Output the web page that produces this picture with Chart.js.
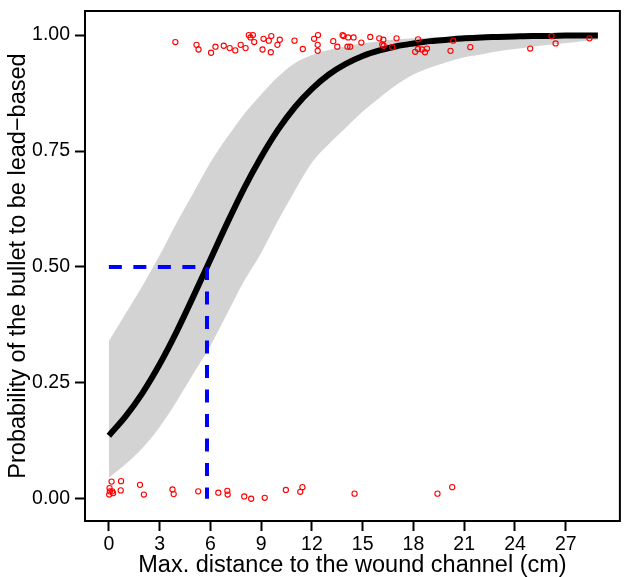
<!DOCTYPE html>
<html>
<head>
<meta charset="utf-8">
<script src="https://cdn.jsdelivr.net/npm/chart.js@4.4.1/dist/chart.umd.min.js"></script>
<style>
  html, body { margin: 0; padding: 0; background: #fff; }
  #wrap { width: 625px; height: 577px; }
</style>
</head>
<body>
<div id="wrap"><canvas id="chart"></canvas></div>
<script>
// fitted curve and 95% band
const gridX = [0, 1, 2, 3, 4, 5, 6, 7, 8, 9, 10, 11, 12, 13, 14, 15, 16, 17, 18, 19, 20, 21, 22, 23, 24, 25, 26, 27, 28, 28.9];
const fitP = [0.136, 0.178, 0.229, 0.29, 0.36, 0.437, 0.516, 0.595, 0.67, 0.737, 0.796, 0.845, 0.884, 0.915, 0.938, 0.955, 0.967, 0.976, 0.982, 0.987, 0.99, 0.993, 0.995, 0.996, 0.997, 0.998, 0.998, 0.999, 0.999, 0.999];
const bandLow = [0.046, 0.075, 0.11, 0.155, 0.21, 0.27, 0.33, 0.40, 0.47, 0.53, 0.60, 0.665, 0.725, 0.765, 0.80, 0.835, 0.865, 0.893, 0.915, 0.93, 0.942, 0.952, 0.958, 0.965, 0.97, 0.975, 0.979, 0.983, 0.987, 0.99];
const bandHigh = [0.34, 0.40, 0.46, 0.525, 0.595, 0.66, 0.725, 0.78, 0.83, 0.872, 0.91, 0.94, 0.957, 0.968, 0.976, 0.982, 0.987, 0.991, 0.993, 0.995, 0.996, 0.997, 0.998, 0.998, 0.999, 0.999, 0.999, 1.0, 1.0, 1.0];

// observed bullets (jittered 0/1)
const obsX = [3.93, 5.18, 5.30, 6.04, 6.30, 6.79, 7.14, 7.47, 7.79, 8.08, 8.27, 8.37, 8.51, 8.59, 9.08, 9.14, 9.45, 9.57, 9.60, 9.96, 10.1, 10.97, 11.46, 12.13, 12.34, 12.36, 12.34, 13.26, 13.50, 13.81, 13.87, 14.14, 14.10, 14.26, 14.46, 14.92, 15.45, 15.98, 16.22, 16.16, 16.24, 16.75, 17.0, 18.27, 18.1, 18.27, 18.5, 18.68, 18.8, 20.35, 20.19, 21.36, 24.9, 26.16, 26.4, 28.4,
  0.16, 0.72, 0.04, 0.06, 0.20, 0.02, 0.25, 0.70, 1.84, 2.07, 3.76, 3.83, 5.28, 6.47, 7.0, 7.02, 8.0, 8.41, 9.21, 10.46, 11.31, 11.44, 14.52, 19.42, 20.29];
const obsY = [0.985, 0.979, 0.969, 0.962, 0.975, 0.977, 0.972, 0.967, 0.979, 0.972, 1.0, 0.995, 1.0, 0.985, 0.969, 0.992, 0.988, 0.963, 0.998, 0.979, 0.990, 0.988, 0.970, 0.992, 0.979, 1.0, 0.966, 0.987, 0.975, 1.0, 0.998, 0.995, 0.975, 0.975, 0.995, 0.984, 0.996, 0.993, 0.990, 0.980, 0.977, 0.974, 0.993, 0.991, 0.964, 0.970, 0.969, 0.963, 0.971, 0.988, 0.966, 0.974, 0.971, 0.998, 0.982, 0.993,
  0.037, 0.038, 0.023, 0.016, 0.016, 0.009, 0.012, 0.018, 0.030, 0.009, 0.020, 0.010, 0.016, 0.013, 0.017, 0.009, 0.005, 0.0, 0.002, 0.019, 0.015, 0.025, 0.011, 0.011, 0.025];

// 50% cut-off
const cutX = [0, 5.8];
const cutP = [0.5, 0];

const xTicks = [0, 3, 6, 9, 12, 15, 18, 21, 24, 27];
const yTicks = [0, 0.25, 0.5, 0.75, 1];

const font = 'Liberation Sans, Arial, sans-serif';

const pts = (xs, ys) => xs.map((x, i) => ({ x: x, y: ys[i] }));

// frame around the plot region
const boxPlugin = {
    id: 'box',
    afterDatasetsDraw(chart) {
        const a = chart.chartArea, ctx = chart.ctx;
        ctx.save();
        ctx.strokeStyle = '#000';
        ctx.lineWidth = 2;
        ctx.strokeRect(a.left, a.top, a.right - a.left, a.bottom - a.top);
        ctx.restore();
    }
};

const lineBase = { pointRadius: 0, tension: 0, showLine: true };

new Chart(document.getElementById('chart').getContext('2d'), {
    type: 'scatter',
    data: {
        datasets: [
            { ...lineBase, data: pts(gridX, bandHigh), borderWidth: 0, backgroundColor: '#D3D3D3', fill: '+1', order: 6, cubicInterpolationMode: 'monotone' },
            { ...lineBase, data: pts(gridX, bandLow), borderWidth: 0, fill: false, order: 5, cubicInterpolationMode: 'monotone' },
            { ...lineBase, data: pts(gridX, fitP), borderColor: '#000', borderWidth: 6, borderCapStyle: 'butt', cubicInterpolationMode: 'monotone', order: 4 },
            { ...lineBase, data: [{ x: cutX[0], y: cutP[0] }, { x: cutX[1], y: cutP[0] }], borderColor: '#0000FF', borderWidth: 4, borderDash: [13, 11.5], borderCapStyle: 'butt', order: 3 },
            { ...lineBase, data: [{ x: cutX[1], y: cutP[0] }, { x: cutX[1], y: cutP[1] }], borderColor: '#0000FF', borderWidth: 4, borderDash: [13, 11.5], borderCapStyle: 'butt', order: 2 },
            { data: pts(obsX, obsY), showLine: false, pointRadius: 2.6, borderWidth: 1.1, borderColor: '#FF0000', backgroundColor: 'rgba(0,0,0,0)', order: 1 }
        ]
    },
    options: {
        animation: false,
        responsive: true,
        maintainAspectRatio: false,
        layout: { padding: { top: 11, right: 1, left: 0, bottom: 0 } },
        plugins: { legend: { display: false }, tooltip: { enabled: false } },
        scales: {
            x: {
                type: 'linear', min: -1.41, max: 30.2,
                afterBuildTicks: s => { s.ticks = xTicks.map(v => ({ value: v })); },
                afterFit: s => { s.height = 56; s.paddingLeft = 0; s.paddingRight = 0; },
                grid: { drawOnChartArea: false, drawTicks: true, tickLength: 10, tickWidth: 2, tickColor: '#000' },
                border: { display: false },
                ticks: { color: '#000', font: { family: font, size: 19.5 }, padding: 2, maxRotation: 0 },
                title: { display: true, text: 'Max. distance to the wound channel (cm)', color: '#000', font: { family: font, size: 23.5, lineHeight: 1 }, padding: { top: 0, bottom: 0 } }
            },
            y: {
                type: 'linear', min: -0.048, max: 1.052,
                afterBuildTicks: s => { s.ticks = yTicks.map(v => ({ value: v })); },
                afterFit: s => { s.width = 85; s.paddingTop = 0; s.paddingBottom = 0; },
                grid: { drawOnChartArea: false, drawTicks: true, tickLength: 10, tickWidth: 2, tickColor: '#000' },
                border: { display: false },
                ticks: { color: '#000', font: { family: font, size: 19.5 }, padding: 5, callback: v => v.toFixed(2) },
                title: { display: true, text: 'Probability of the bullet to be lead−based', color: '#000', font: { family: font, size: 23.5 }, padding: { top: 4, bottom: 0 } }
            }
        }
    },
    plugins: [boxPlugin]
});
</script>
</body>
</html>
